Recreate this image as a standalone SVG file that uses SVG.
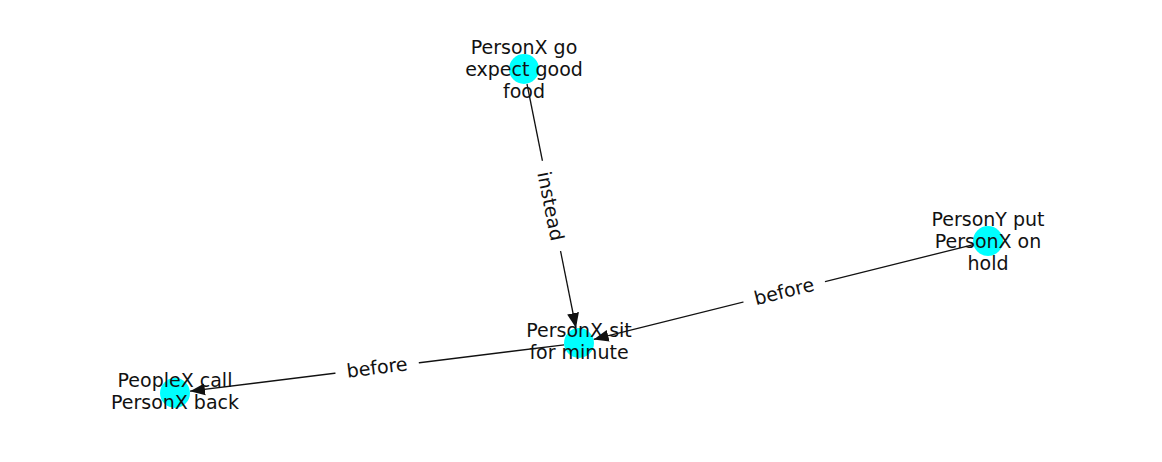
<svg xmlns="http://www.w3.org/2000/svg" width="1162" height="462" viewBox="0 0 1162 462">
<style>
.edge{stroke:#111;stroke-width:1.3;fill:none}
.node{fill:#00ffff}
.lbl{font-family:"DejaVu Sans",sans-serif;font-size:19px;fill:#111;text-anchor:middle}
.elbl{font-family:"DejaVu Sans",sans-serif;font-size:19px;fill:#111;text-anchor:middle;dominant-baseline:central}
.bg{fill:#fff}
</style>
<defs>
<marker id="arr" markerUnits="userSpaceOnUse" markerWidth="16" markerHeight="14" refX="15" refY="6.5" orient="auto">
<path d="M0,0.5 L15,6.5 L0,12.5 Z" fill="#111"/>
</marker>
</defs>
<rect width="1162" height="462" fill="#fff"/>
<g id="edges">
<path class="edge" d="M527,84 L576,328" marker-end="url(#arr)"/>
<path class="edge" d="M973.4,244.6 L593.6,339.4" marker-end="url(#arr)"/>
<path class="edge" d="M564.1,344.8 L190,391.2" marker-end="url(#arr)"/>
</g>
<g id="edge-labels">
<g transform="translate(551,206) rotate(78.65)">
<rect class="bg" x="-46" y="-15" width="92" height="30" rx="5"/>
<text class="elbl" x="0" y="0">instead</text>
</g>
<g transform="translate(784,291) rotate(-14)">
<rect class="bg" x="-42" y="-15" width="84" height="30" rx="5"/>
<text class="elbl" x="0" y="0">before</text>
</g>
<g transform="translate(377,367) rotate(-7.05)">
<rect class="bg" x="-42" y="-15" width="84" height="30" rx="5"/>
<text class="elbl" x="0" y="0">before</text>
</g>
</g>
<g id="n-go">
<circle class="node" cx="524" cy="69" r="15"/>
<text class="lbl"><tspan x="524" y="54">PersonX go</tspan><tspan x="524" y="76">expect good</tspan><tspan x="524" y="98">food</tspan></text>
</g>
<g id="n-put">
<circle class="node" cx="988" cy="241" r="15"/>
<text class="lbl"><tspan x="988" y="226">PersonY put</tspan><tspan x="988" y="248">PersonX on</tspan><tspan x="988" y="270">hold</tspan></text>
</g>
<g id="n-sit">
<circle class="node" cx="579" cy="343" r="15"/>
<text class="lbl"><tspan x="579" y="337">PersonX sit</tspan><tspan x="579" y="359">for minute</tspan></text>
</g>
<g id="n-call">
<circle class="node" cx="175" cy="393" r="15"/>
<text class="lbl"><tspan x="175" y="387">PeopleX call</tspan><tspan x="175" y="409">PersonX back</tspan></text>
</g>
</svg>
